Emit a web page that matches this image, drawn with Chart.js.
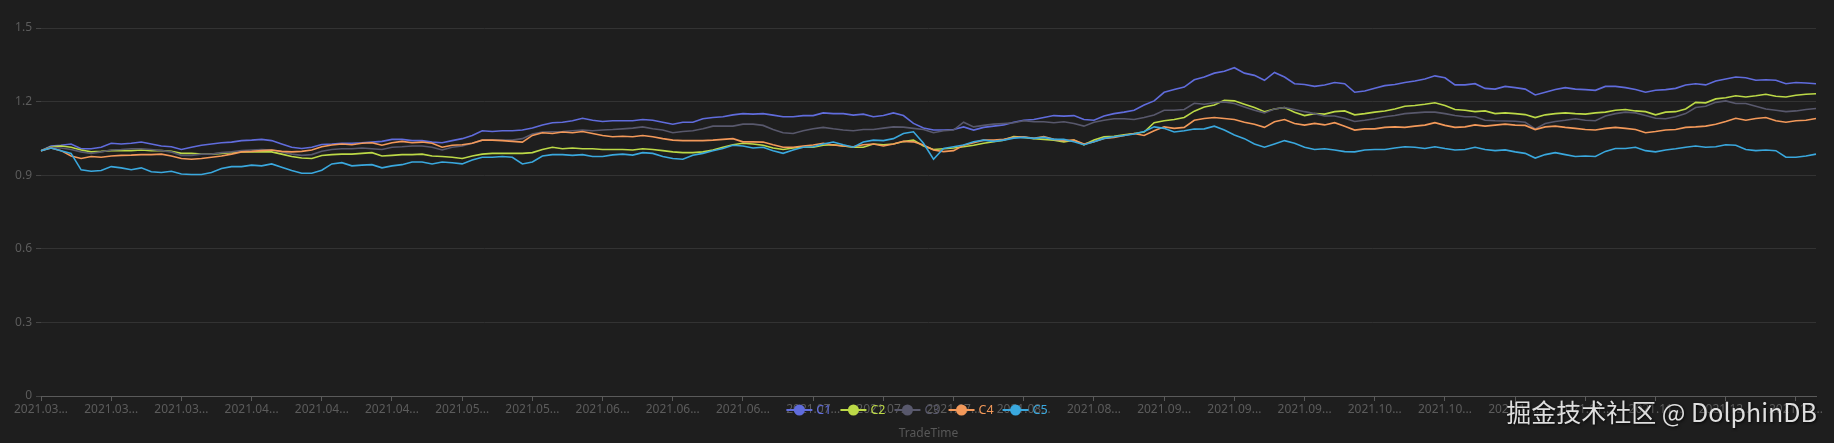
<!DOCTYPE html>
<html>
<head>
<meta charset="utf-8">
<style>
html,body{margin:0;padding:0;background:#1e1e1e;}
#wrap{position:relative;width:1834px;height:443px;background:#1e1e1e;}
canvas{display:block;}
</style>
<script src="https://cdn.jsdelivr.net/npm/chart.js@4.4.1/dist/chart.umd.min.js"></script>
</head>
<body>
<div id="wrap"><canvas id="c" width="1834" height="443"></canvas></div>
<script>
// ---------- DATA ----------
const categories = [
'2021.03.01','2021.03.02','2021.03.03','2021.03.04','2021.03.05','2021.03.08','2021.03.09','2021.03.10','2021.03.11','2021.03.12','2021.03.15','2021.03.16','2021.03.17','2021.03.18','2021.03.19','2021.03.22','2021.03.23','2021.03.24','2021.03.25','2021.03.26','2021.03.29',
'2021.04.01','2021.04.02','2021.04.06','2021.04.07','2021.04.08','2021.04.09','2021.04.12','2021.04.13','2021.04.14','2021.04.15','2021.04.16','2021.04.19','2021.04.20','2021.04.21','2021.04.22','2021.04.23','2021.04.26','2021.04.27','2021.04.28','2021.04.29','2021.04.30',
'2021.05.06','2021.05.07','2021.05.10','2021.05.11','2021.05.12','2021.05.13','2021.05.14','2021.05.17','2021.05.18','2021.05.19','2021.05.20','2021.05.21','2021.05.24','2021.05.25',
'2021.06.01','2021.06.02','2021.06.03','2021.06.04','2021.06.07','2021.06.08','2021.06.09','2021.06.10','2021.06.11','2021.06.15','2021.06.16','2021.06.17','2021.06.18','2021.06.21','2021.06.22','2021.06.23','2021.06.24','2021.06.25','2021.06.28','2021.06.29','2021.06.30',
'2021.07.01','2021.07.02','2021.07.05','2021.07.06','2021.07.07','2021.07.08','2021.07.09','2021.07.12','2021.07.13','2021.07.14','2021.07.15','2021.07.16','2021.07.19','2021.07.20','2021.07.21','2021.07.22','2021.07.23','2021.07.26','2021.07.27','2021.07.28','2021.07.29',
'2021.08.02','2021.08.03','2021.08.04','2021.08.05','2021.08.06','2021.08.09','2021.08.10','2021.08.11','2021.08.12','2021.08.13','2021.08.16','2021.08.17','2021.08.18','2021.08.19',
'2021.09.01','2021.09.02','2021.09.03','2021.09.06','2021.09.07','2021.09.08','2021.09.09','2021.09.10','2021.09.13','2021.09.14','2021.09.15','2021.09.16','2021.09.17','2021.09.18','2021.09.22','2021.09.23','2021.09.24','2021.09.27','2021.09.28','2021.09.29','2021.09.30',
'2021.10.08','2021.10.11','2021.10.12','2021.10.13','2021.10.14','2021.10.15','2021.10.18','2021.10.19','2021.10.20','2021.10.21','2021.10.22','2021.10.25','2021.10.26','2021.10.27',
'2021.11.01','2021.11.02','2021.11.03','2021.11.04','2021.11.05','2021.11.08','2021.11.09','2021.11.10','2021.11.11','2021.11.12','2021.11.15','2021.11.16','2021.11.17','2021.11.18','2021.11.19','2021.11.22','2021.11.23','2021.11.24','2021.11.25','2021.11.26','2021.11.29',
'2021.12.01','2021.12.02','2021.12.03','2021.12.06','2021.12.07','2021.12.08','2021.12.09','2021.12.10','2021.12.13','2021.12.14'
];

const seriesNames = ['C1','C2','C3','C4','C5'];

const c1 = [
1.000,1.019,1.022,1.027,1.008,1.008,1.014,1.030,1.027,1.030,1.035,1.027,1.019,1.016,1.005,1.014,1.022,1.027,1.032,1.035,1.041,1.043,1.046,1.041,1.027,1.014,1.009,1.014,1.025,
1.027,1.030,1.030,1.032,1.035,1.038,1.046,1.046,1.041,1.041,1.035,1.032,1.041,1.049,1.062,1.081,1.078,1.081,1.081,1.084,1.092,1.105,1.114,1.116,1.122,1.132,1.124,1.119,1.122,
1.122,1.122,1.127,1.124,1.116,1.108,1.116,1.116,1.130,1.135,1.138,1.146,1.151,1.149,1.151,1.145,1.138,1.138,1.143,1.143,1.154,1.151,1.151,1.145,1.149,1.138,1.143,1.154,1.143,
1.111,1.092,1.084,1.084,1.086,1.097,1.084,1.095,1.100,1.105,1.116,1.124,1.127,1.135,1.143,1.141,1.143,1.127,1.124,1.141,1.151,1.157,1.165,1.186,1.203,1.238,1.249,1.259,1.289,
1.300,1.316,1.324,1.338,1.316,1.307,1.287,1.319,1.300,1.273,1.270,1.262,1.268,1.278,1.273,1.238,1.243,1.254,1.265,1.270,1.278,1.284,1.292,1.305,1.297,1.268,1.268,1.273,1.254,1.251,1.262,
1.257,1.251,1.227,1.238,1.249,1.257,1.251,1.249,1.246,1.262,1.262,1.257,1.249,1.238,1.246,1.249,1.254,1.268,1.273,1.268,1.284,1.292,1.300,1.297,1.287,1.289,1.287,1.273,1.278,1.276,1.273
];

const c2 = [
1.000,1.016,1.019,1.014,1.003,0.995,0.997,1.000,1.000,1.000,1.003,1.000,1.000,0.997,0.989,0.989,0.986,0.986,0.989,0.992,0.995,0.995,0.996,0.995,0.986,0.976,0.970,0.968,0.980,
0.984,0.986,0.986,0.989,0.992,0.978,0.981,0.984,0.984,0.986,0.978,0.976,0.973,0.968,0.978,0.986,0.989,0.989,0.989,0.989,0.992,1.005,1.014,1.008,1.011,1.008,1.008,1.005,1.005,
1.005,1.003,1.008,1.005,1.000,0.995,0.992,0.992,0.995,1.003,1.014,1.024,1.030,1.027,1.022,1.011,1.005,1.011,1.014,1.014,1.022,1.024,1.019,1.014,1.014,1.027,1.024,1.027,1.037,
1.043,1.019,1.005,1.008,1.011,1.016,1.022,1.030,1.036,1.043,1.057,1.054,1.049,1.046,1.043,1.036,1.043,1.024,1.043,1.057,1.059,1.065,1.070,1.076,1.114,1.122,1.127,1.135,1.161,
1.178,1.186,1.205,1.203,1.189,1.176,1.159,1.170,1.176,1.157,1.143,1.151,1.149,1.159,1.162,1.146,1.151,1.157,1.162,1.170,1.181,1.184,1.189,1.195,1.184,1.168,1.165,1.159,1.162,1.151,1.154,
1.151,1.147,1.135,1.146,1.151,1.154,1.151,1.149,1.154,1.157,1.165,1.168,1.162,1.159,1.146,1.157,1.159,1.170,1.197,1.195,1.211,1.216,1.224,1.219,1.224,1.230,1.222,1.219,1.226,1.230,1.232
];

const c3 = [
1.000,1.014,1.011,1.005,0.995,0.989,0.995,1.003,1.005,1.008,1.008,1.005,1.000,0.995,0.981,0.981,0.986,0.986,0.992,0.995,1.000,1.003,1.005,1.003,0.995,0.986,0.981,0.984,0.998,
1.005,1.008,1.008,1.011,1.008,1.005,1.014,1.016,1.019,1.019,1.014,1.003,1.014,1.019,1.030,1.043,1.043,1.043,1.043,1.049,1.068,1.076,1.077,1.078,1.081,1.084,1.081,1.084,1.086,
1.089,1.092,1.097,1.089,1.084,1.073,1.078,1.081,1.089,1.100,1.100,1.100,1.108,1.108,1.103,1.086,1.073,1.070,1.081,1.089,1.095,1.089,1.084,1.081,1.086,1.086,1.092,1.097,1.096,
1.091,1.086,1.073,1.081,1.084,1.116,1.097,1.103,1.108,1.111,1.114,1.122,1.118,1.118,1.114,1.118,1.111,1.100,1.116,1.124,1.130,1.130,1.127,1.135,1.145,1.165,1.165,1.168,1.193,
1.189,1.195,1.199,1.192,1.178,1.165,1.154,1.170,1.176,1.168,1.159,1.151,1.141,1.141,1.132,1.119,1.124,1.130,1.138,1.143,1.151,1.154,1.157,1.157,1.151,1.143,1.138,1.138,1.124,1.122,1.121,
1.120,1.116,1.089,1.111,1.119,1.124,1.130,1.124,1.122,1.141,1.151,1.157,1.154,1.143,1.132,1.130,1.138,1.151,1.176,1.181,1.197,1.203,1.192,1.192,1.181,1.170,1.165,1.159,1.162,1.168,1.172
];

const c4 = [
1.000,1.011,1.000,0.978,0.968,0.976,0.973,0.978,0.981,0.982,0.984,0.984,0.986,0.978,0.968,0.965,0.968,0.973,0.978,0.986,0.995,0.997,1.000,1.003,0.997,0.995,0.997,1.003,1.016,
1.023,1.027,1.024,1.030,1.032,1.022,1.032,1.038,1.032,1.035,1.030,1.014,1.022,1.024,1.030,1.043,1.043,1.041,1.038,1.035,1.062,1.073,1.070,1.076,1.073,1.078,1.070,1.062,1.057,
1.059,1.057,1.062,1.057,1.049,1.043,1.041,1.041,1.041,1.043,1.046,1.049,1.036,1.036,1.035,1.024,1.014,1.014,1.019,1.023,1.030,1.023,1.019,1.016,1.024,1.027,1.019,1.027,1.038,
1.036,1.023,1.003,0.996,1.000,1.022,1.032,1.043,1.043,1.046,1.054,1.057,1.050,1.057,1.046,1.041,1.043,1.027,1.036,1.050,1.054,1.062,1.070,1.062,1.081,1.097,1.091,1.095,1.124,
1.131,1.135,1.131,1.127,1.116,1.108,1.095,1.118,1.127,1.111,1.104,1.111,1.105,1.114,1.100,1.084,1.089,1.089,1.095,1.097,1.095,1.100,1.104,1.114,1.103,1.095,1.097,1.105,1.100,1.104,1.108,
1.104,1.103,1.086,1.097,1.100,1.095,1.091,1.086,1.084,1.091,1.095,1.091,1.086,1.073,1.078,1.084,1.086,1.095,1.097,1.100,1.108,1.119,1.132,1.124,1.131,1.135,1.122,1.116,1.122,1.124,1.131
];

const c5 = [
1.000,1.011,1.000,0.989,0.922,0.916,0.919,0.935,0.930,0.922,0.930,0.914,0.911,0.916,0.905,0.903,0.903,0.911,0.927,0.935,0.935,0.941,0.938,0.946,0.932,0.919,0.908,0.908,0.920,
0.946,0.951,0.938,0.941,0.943,0.930,0.938,0.943,0.954,0.954,0.946,0.954,0.951,0.946,0.962,0.973,0.973,0.976,0.973,0.946,0.954,0.978,0.984,0.984,0.981,0.984,0.976,0.976,0.983,
0.986,0.982,0.992,0.989,0.976,0.968,0.965,0.981,0.989,1.000,1.009,1.022,1.019,1.011,1.014,1.000,0.989,1.003,1.014,1.016,1.027,1.035,1.024,1.014,1.035,1.043,1.041,1.049,1.070,
1.077,1.030,0.965,1.009,1.016,1.023,1.036,1.043,1.038,1.043,1.051,1.054,1.050,1.054,1.046,1.046,1.036,1.024,1.036,1.050,1.057,1.062,1.068,1.078,1.097,1.091,1.076,1.081,1.088,
1.089,1.100,1.084,1.064,1.049,1.027,1.014,1.027,1.041,1.030,1.014,1.005,1.008,1.003,0.996,0.995,1.003,1.005,1.005,1.011,1.016,1.014,1.009,1.016,1.009,1.003,1.005,1.014,1.005,1.000,1.003,
0.995,0.989,0.970,0.984,0.992,0.984,0.976,0.978,0.976,0.997,1.009,1.009,1.014,1.000,0.995,1.003,1.008,1.014,1.019,1.014,1.016,1.024,1.022,1.005,1.000,1.003,1.000,0.973,0.973,0.978,0.986
];

const yTickValues = [0, 0.3, 0.6, 0.9, 1.2, 1.5];
const xLabelEvery = 7;
const xAxisName = 'TradeTime';
const watermarkText = '掘金技术社区 @ DolphinDB';

// ---------- STYLE ----------
const seriesColors = ['#606cdc', '#bcd947', '#58586c', '#f3995a', '#3aa8de'];
const seriesValues = [c1, c2, c3, c4, c5];

Chart.defaults.font.family = '"Noto Sans", "Open Sans", sans-serif';
Chart.defaults.font.size = 12;

const overlay = {
  id: 'overlay',
  afterDraw(chart) {
    const ctx = chart.ctx;
    const area = chart.chartArea;
    ctx.save();
    // legend (drawn over the axis labels, as in the reference)
    ctx.font = '12.5px "Noto Sans", sans-serif';
    const iconW = 26, textGap = 4, itemGap = 9;
    const items = chart.data.datasets.map(ds => ({
      label: ds.label, color: ds.borderColor, w: ctx.measureText(ds.label).width
    }));
    const total = items.reduce((s, it) => s + iconW + textGap + it.w, 0) + itemGap * (items.length - 1);
    let x = chart.width / 2 - total / 2;
    const ly = 410;
    ctx.textBaseline = 'middle';
    ctx.textAlign = 'left';
    items.forEach(it => {
      ctx.strokeStyle = it.color;
      ctx.lineWidth = 2;
      ctx.beginPath(); ctx.moveTo(x, ly); ctx.lineTo(x + iconW, ly); ctx.stroke();
      ctx.fillStyle = it.color;
      ctx.beginPath(); ctx.arc(x + iconW / 2, ly, 5.5, 0, Math.PI * 2); ctx.fill();
      ctx.fillText(it.label, x + iconW + textGap, ly + 0.5);
      x += iconW + textGap + it.w + itemGap;
    });
    // axis name
    ctx.font = '12px "Noto Sans", sans-serif';
    ctx.fillStyle = '#585858';
    ctx.textAlign = 'center';
    ctx.fillText(xAxisName, (area.left + area.right) / 2, 434);
    // watermark
    ctx.font = '25px "Noto Sans CJK SC", "Noto Sans", sans-serif';
    ctx.textAlign = 'right';
    ctx.shadowColor = 'rgba(0,0,0,0.85)';
    ctx.shadowBlur = 3;
    ctx.shadowOffsetX = 1;
    ctx.shadowOffsetY = 1;
    ctx.fillStyle = '#dedede';
    ctx.fillText(watermarkText, 1817, 412);
    ctx.restore();
  }
};

new Chart(document.getElementById('c'), {
  type: 'line',
  data: {
    labels: categories,
    datasets: seriesNames.map((name, i) => ({
      label: name,
      data: seriesValues[i],
      borderColor: seriesColors[i],
      backgroundColor: seriesColors[i],
      borderWidth: 1.6,
      pointRadius: 0,
      pointHoverRadius: 0,
      tension: 0,
      fill: false,
      order: seriesNames.length - i
    }))
  },
  options: {
    responsive: false,
    animation: false,
    devicePixelRatio: 1,
    layout: { padding: { top: 28, right: 18, bottom: 0, left: 0 } },
    plugins: { legend: { display: false }, tooltip: { enabled: false } },
    scales: {
      x: {
        type: 'category',
        offset: false,
        afterFit(scale) { scale.height = 47; },
        afterBuildTicks(scale) {
          scale.ticks = scale.ticks.filter(t => t.value % xLabelEvery === 0);
        },
        ticks: {
          autoSkip: false,
          maxRotation: 0,
          minRotation: 0,
          padding: 1,
          color: '#5c5c5c',
          font: { size: 12 },
          callback(value) {
            const lab = this.getLabelForValue(value);
            return lab.slice(0, 8) + '\u2025';
          }
        },
        grid: { display: true, drawOnChartArea: false, drawTicks: true, tickLength: 5, color: '#5a5a5a' },
        border: { display: true, color: '#5a5a5a', width: 1 }
      },
      y: {
        min: 0,
        max: 1.5,
        afterFit(scale) { scale.width = 41; },
        afterBuildTicks(scale) {
          scale.ticks = yTickValues.map(v => ({ value: v }));
        },
        ticks: {
          padding: 4,
          color: '#5c5c5c',
          font: { size: 12 },
          callback(v) { return String(v); }
        },
        grid: { color: '#333333', tickColor: '#444444', tickLength: 5, drawTicks: true },
        border: { display: false }
      }
    }
  },
  plugins: [overlay]
});
</script>
</body>
</html>
